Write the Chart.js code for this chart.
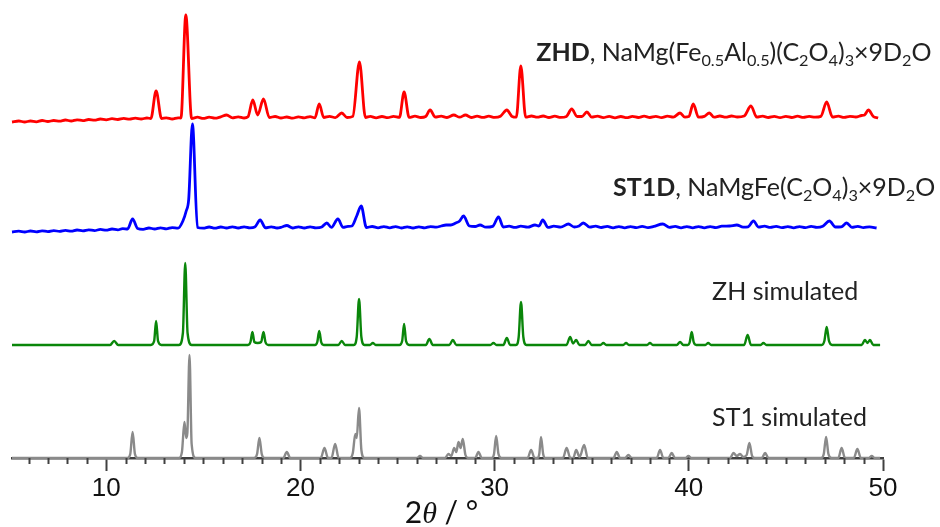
<!DOCTYPE html>
<html>
<head>
<meta charset="utf-8">
<script src="https://cdn.jsdelivr.net/npm/chart.js@4.4.1/dist/chart.umd.min.js"></script>
<style>
html,body{margin:0;padding:0;background:#fff;}
#wrap{width:940px;height:527px;}
</style>
</head>
<body>
<div id="wrap"><canvas id="c" width="940" height="527"></canvas></div>
<script>
// ---------- axis range / ticks ----------
const twoThetaMin = 5.15;
const twoThetaMax = 50;
const majorTickValues = [10, 20, 30, 40, 50];

// ---------- vertical offsets of the stacked patterns (arbitrary units) ----------
const offsetZHD = 339;
const offsetST1D = 229;
const offsetZHsim = 113;
const offsetST1sim = 0;

// ---------- ZHD (experimental) : [2theta, intensity] ----------
const zhdPattern = [
  [5.15,-3],[5.5,-2],[5.8,-3],[6.1,-2],[6.4,-2.8],[6.7,-1.5],[7.0,-2.5],[7.3,-1.5],[7.6,-2.2],[7.9,-1],
  [8.2,-2],[8.5,-0.8],[8.8,-1.6],[9.1,-0.5],[9.4,-1.2],[9.7,0],[10.0,-0.8],[10.3,0.3],[10.6,-0.5],[10.9,0.6],
  [11.2,-0.2],[11.5,0.8],[11.8,0],[12.1,1],[12.3,0.5],[12.57,28],[12.85,0.5],[13.1,1.2],[13.4,0],[13.7,1.2],
  [13.85,1],[14.1,104],[14.4,0.5],[14.7,1.8],[15.0,0.6],[15.3,1.8],[15.6,0.8],[15.9,2.2],[16.2,4],[16.5,1.2],
  [16.8,2.2],[17.1,1],[17.3,2.2],[17.55,19],[17.8,4],[18.1,20],[18.4,1.5],[18.7,2.5],[19.0,1],[19.3,2],
  [19.6,0.8],[19.9,2.2],[20.2,1.2],[20.5,2.4],[20.75,1.2],[20.97,15],[21.2,1.5],[21.5,2.6],[21.8,1.4],[22.13,6],
  [22.4,1.5],[22.7,2.6],[23.04,57],[23.35,1.5],[23.6,2.6],[23.9,1.2],[24.2,2.5],[24.5,1.4],[24.8,2.6],[25.1,1.6],
  [25.34,27],[25.6,1.6],[25.9,2.8],[26.2,1.5],[26.45,2.5],[26.68,9],[26.95,1.8],[27.25,2.8],[27.55,1.5],[27.9,4],
  [28.2,1.8],[28.5,4],[28.8,1.5],[29.1,2.8],[29.4,1.6],[29.7,2.8],[30.0,1.6],[30.3,2.8],[30.63,9],[30.9,2.5],
  [31.12,1.8],[31.35,53],[31.6,1.8],[31.9,3],[32.2,1.8],[32.5,3],[32.8,1.5],[33.1,2.8],[33.4,1.6],[33.7,2.6],
  [33.97,10],[34.25,2.5],[34.5,2.5],[34.75,7],[35.0,1.8],[35.3,2.8],[35.6,1.4],[35.9,2.6],[36.2,1.2],[36.5,2.5],
  [36.8,1.3],[37.1,2.6],[37.4,1.5],[37.7,2.8],[38.0,1.5],[38.3,2.6],[38.6,1.4],[38.9,2.8],[39.2,1.8],[39.55,6],
  [39.8,1.8],[40.0,2.4],[40.23,15],[40.5,1.8],[40.8,2.6],[41.06,6],[41.3,1.8],[41.6,3],[41.9,1.8],[42.2,3],
  [42.5,2],[42.85,3],[43.2,13],[43.5,1.8],[43.8,2.8],[44.1,1.5],[44.4,2.6],[44.7,1.4],[45.0,2.6],[45.3,1.5],
  [45.6,2.8],[45.9,1.6],[46.2,2.6],[46.5,1.8],[46.8,2.6],[47.1,17],[47.4,1.8],[47.7,2.8],[48.0,1.6],[48.3,2.6],
  [48.6,2],[48.9,3.5],[49.05,4],[49.25,9],[49.5,2.5],[49.75,1]
];

// ---------- ST1D (experimental) ----------
const st1dPattern = [
  [5.15,-3],[5.5,-2.2],[5.8,-3],[6.1,-2],[6.4,-2.8],[6.7,-1.8],[7.0,-2.6],[7.3,-1.6],[7.6,-2.4],[7.9,-1.4],
  [8.2,-2.2],[8.5,-1],[8.8,-1.8],[9.1,-0.8],[9.4,-1.6],[9.7,-0.4],[10.0,-1.2],[10.3,0],[10.6,-0.8],[10.85,0.4],
  [11.1,0],[11.36,10],[11.62,0.5],[11.9,-0.3],[12.2,1],[12.5,0],[12.8,1.2],[13.1,0.2],[13.4,1.4],[13.7,0.8],
  [13.95,8],[14.12,18],[14.25,30],[14.44,105],[14.7,1.5],[15.0,0.8],[15.3,2],[15.6,0.8],[15.9,2],[16.2,1],
  [16.5,2.2],[16.8,1],[17.1,2.2],[17.4,1.2],[17.65,2],[17.93,9],[18.2,1.2],[18.5,2.2],[18.8,1],[19.05,2],
  [19.3,3.5],[19.6,1],[19.9,2.2],[20.2,1],[20.5,2.2],[20.8,1.2],[21.1,2],[21.36,6],[21.6,1.6],[21.93,10],
  [22.2,1.6],[22.45,2.6],[22.65,3],[22.9,13],[23.13,23],[23.4,1.5],[23.7,2.5],[24.0,1.2],[24.3,2.4],[24.6,1.2],
  [24.9,2.4],[25.2,1],[25.5,2.2],[25.8,1],[26.1,2.2],[26.4,1.2],[26.7,2.4],[27.0,1.8],[27.25,3],[27.5,4],
  [27.75,4],[28.0,6],[28.2,8],[28.4,13],[28.7,3],[29.0,2.5],[29.25,4],[29.55,1.8],[29.9,2.6],[30.2,12],
  [30.45,2],[30.75,2.8],[31.05,1.6],[31.35,2.8],[31.7,1.8],[32.08,4],[32.28,3],[32.48,9],[32.75,1.6],[33.05,2.8],
  [33.4,1.8],[33.8,5],[34.1,2],[34.35,3],[34.57,6],[34.9,1.8],[35.2,2.8],[35.5,1.5],[35.8,2.6],[36.1,1.2],
  [36.4,2.4],[36.7,1.2],[37.0,2.4],[37.3,1.4],[37.6,2.6],[37.9,1.4],[38.2,2.6],[38.66,5],[39.0,1.6],[39.3,2.6],
  [39.6,1.2],[39.9,2.4],[40.2,1.2],[40.5,2.4],[40.8,1.2],[41.1,2.4],[41.4,1.4],[41.7,2.8],[42.1,3],[42.47,4],
  [42.8,1.8],[43.05,2.2],[43.33,8],[43.6,1.8],[43.9,2.8],[44.2,1.6],[44.5,2.6],[44.8,1.4],[45.1,2.4],[45.4,1.2],
  [45.7,2.4],[46.0,1.4],[46.3,2.6],[46.6,1.6],[46.9,2.8],[47.24,8],[47.55,2],[47.85,2.2],[48.13,6],[48.4,1.6],
  [48.7,2.6],[49.0,1.4],[49.3,2.2],[49.67,1]
];

// ---------- ZH simulated ----------
const zhSimPattern = [
  [5.15,0],[10.2,0],[10.41,4],[10.62,0],
  [12.3,0],[12.47,4],[12.57,24],[12.67,4],[12.84,0],
  [13.75,0],[13.95,12],[14.07,82],[14.19,12],[14.4,0],
  [17.3,0],[17.43,3],[17.53,13],[17.63,3],[17.8,2],[17.98,3],[18.1,13],[18.2,3],[18.35,0],
  [20.75,0],[20.87,3],[20.97,14],[21.07,3],[21.2,0],
  [21.95,0],[22.13,4],[22.3,0],
  [22.75,0],[22.9,8],[23.02,46],[23.14,8],[23.3,0],
  [23.58,0],[23.73,2],[23.88,0],
  [25.1,0],[25.24,4],[25.34,21],[25.44,4],[25.6,0],
  [26.46,0],[26.64,6],[26.82,0],
  [27.67,0],[27.85,5],[28.03,0],
  [29.78,0],[29.94,2],[30.1,0],
  [30.45,0],[30.63,7],[30.8,0],
  [31.1,0],[31.24,8],[31.36,43],[31.48,8],[31.64,0],
  [33.7,0],[33.89,8],[34.04,1.5],[34.2,5],[34.37,0],
  [34.66,0],[34.83,4],[35.0,0],
  [35.45,0],[35.6,2],[35.75,0],
  [36.62,0],[36.77,2],[36.92,0],
  [37.85,0],[38.0,2],[38.15,0],
  [39.38,0],[39.55,3],[39.72,0],
  [39.95,0],[40.05,3],[40.15,13],[40.25,3],[40.38,0],
  [40.85,0],[41.0,2],[41.15,0],
  [42.85,0],[43.03,10],[43.2,0],
  [43.7,0],[43.84,2],[44.0,0],
  [46.85,0],[46.98,4],[47.1,18],[47.22,4],[47.38,0],
  [48.9,0],[49.07,5],[49.2,2],[49.33,5],[49.5,0],[49.85,0]
];

// ---------- ST1 simulated ----------
const st1SimPattern = [
  [5.15,0],[11.1,0],[11.24,4],[11.36,26],[11.48,4],[11.62,0],
  [13.75,0],[13.9,6],[14.03,36],[14.12,20],[14.18,25],[14.29,103],[14.4,14],[14.6,0],
  [17.62,0],[17.77,4],[17.89,20],[18.01,4],[18.15,0],
  [19.12,0],[19.3,6],[19.48,0],
  [21.05,0],[21.24,10],[21.42,0],[21.6,0],[21.79,14],[21.97,0],
  [22.55,0],[22.7,5],[22.83,24],[22.9,20],[23.02,50],[23.14,8],[23.3,0],
  [26.0,0],[26.16,2],[26.32,0],
  [27.45,0],[27.62,4],[27.77,2],[27.92,10],[28.03,6],[28.14,16],[28.25,10],[28.36,19],[28.5,3],[28.65,0],
  [29.0,0],[29.17,6],[29.34,0],
  [29.85,0],[29.97,4],[30.08,22],[30.2,4],[30.35,0],
  [31.7,0],[31.88,8],[32.06,0],[32.2,0],[32.3,4],[32.39,21],[32.5,4],[32.6,0],
  [33.52,0],[33.71,10],[33.9,0],[34.05,0],[34.2,8],[34.38,1],[34.61,13],[34.8,0],
  [36.12,0],[36.29,6],[36.46,0],[36.72,0],[36.89,3],[37.06,0],
  [38.35,0],[38.52,8],[38.69,0],[38.95,0],[39.12,5],[39.29,0],
  [39.82,0],[39.98,2],[40.14,0],
  [42.13,0],[42.3,5],[42.47,2],[42.64,4],[42.8,1],[42.98,3],[43.12,15],[43.26,2],[43.4,0],
  [43.76,0],[43.93,5],[44.1,0],
  [46.82,0],[46.95,4],[47.07,21],[47.19,4],[47.35,0],
  [47.7,0],[47.87,10],[48.04,0],
  [48.5,0],[48.68,9],[48.86,0],
  [49.26,0],[49.42,2],[49.58,0],[49.85,0]
];

// ---------- label texts (segments: b = bold, s = subscript) ----------
const labelZHD = [
  {t:'ZHD', b:true},{t:', NaMg(Fe'},{t:'0.5', s:true},{t:'Al'},{t:'0.5', s:true},{t:')(C'},
  {t:'2', s:true},{t:'O'},{t:'4', s:true},{t:')'},{t:'3', s:true},{t:'\u00d79D'},{t:'2', s:true},{t:'O'}
];
const labelST1D = [
  {t:'ST1D', b:true},{t:', NaMgFe(C'},{t:'2', s:true},{t:'O'},{t:'4', s:true},{t:')'},
  {t:'3', s:true},{t:'\u00d79D'},{t:'2', s:true},{t:'O'}
];
const labelZHsim = [{t:'ZH simulated'}];
const labelST1sim = [{t:'ST1 simulated'}];

// ---------- build datasets ----------
function toXY(pattern, offset) {
  return pattern.map(p => ({x: p[0], y: p[1] + offset}));
}

const labelPlacements = [
  {segs: labelZHD,    x: 32.15, y: 406},
  {segs: labelST1D,   x: 36.1,  y: 271},
  {segs: labelZHsim,  x: 41.2,  y: 167},
  {segs: labelST1sim, x: 41.2,  y: 41}
];

const LABEL_FONT = 'Lato, "Open Sans", sans-serif';
const LABEL_SIZE = 25;

function drawRich(ctx, segs, x, yc, size) {
  let cx = x;
  const base = yc + size * 0.36;
  ctx.textBaseline = 'alphabetic';
  ctx.textAlign = 'left';
  ctx.fillStyle = '#222';
  for (const s of segs) {
    const fs = s.s ? size * 0.65 : size;
    ctx.font = (s.b ? 'bold ' : '') + fs + 'px ' + LABEL_FONT;
    const y = base + (s.s ? size * 0.2 : 0);
    ctx.fillText(s.t, cx, y);
    cx += ctx.measureText(s.t).width;
  }
}

const decorations = {
  id: 'decorations',
  afterDraw(chart) {
    const ctx = chart.ctx;
    const xs = chart.scales.x, ys = chart.scales.y;
    const bottom = chart.chartArea.bottom;
    ctx.save();
    // minor ticks
    ctx.strokeStyle = '#404040';
    ctx.lineWidth = 2;
    for (let v = Math.ceil(twoThetaMin); v < twoThetaMax; v++) {
      if (majorTickValues.includes(v)) continue;
      const px = Math.round(xs.getPixelForValue(v)) + 0.5;
      ctx.beginPath();
      ctx.moveTo(px, bottom);
      ctx.lineTo(px, bottom + 6);
      ctx.stroke();
    }
    // series labels
    for (const l of labelPlacements) {
      drawRich(ctx, l.segs, xs.getPixelForValue(l.x), ys.getPixelForValue(l.y), LABEL_SIZE);
    }
    // axis title  2θ / °
    const parts = [
      {t:'2', f:'30px ' + LABEL_FONT},
      {t:'\u03b8', f:'italic 30px "Liberation Serif", serif'},
      {t:' / ', f:'30px ' + LABEL_FONT},
      {t:'\u00b0', f:'30px ' + LABEL_FONT}
    ];
    let w = 0;
    for (const p of parts) { ctx.font = p.f; w += ctx.measureText(p.t).width; }
    let tx = (chart.chartArea.left + chart.chartArea.right) / 2 - w / 2 - 6;
    const ty = 523;
    ctx.fillStyle = '#111';
    ctx.textBaseline = 'alphabetic';
    for (const p of parts) {
      ctx.font = p.f;
      ctx.fillText(p.t, tx, ty);
      tx += ctx.measureText(p.t).width;
    }
    ctx.restore();
  }
};

function lineDs(data, color, width) {
  return {
    data: data,
    borderColor: color,
    borderWidth: width,
    pointRadius: 0,
    fill: false,
    cubicInterpolationMode: 'monotone',
    clip: false
  };
}

new Chart(document.getElementById('c'), {
  type: 'line',
  data: {
    datasets: [
      lineDs(toXY(st1SimPattern, offsetST1sim), '#8a8a8a', 2.4),
      lineDs(toXY(zhSimPattern, offsetZHsim), '#0a860a', 2.4),
      lineDs(toXY(st1dPattern, offsetST1D), '#0000ff', 2.8),
      lineDs(toXY(zhdPattern, offsetZHD), '#ff0000', 2.8)
    ]
  },
  options: {
    responsive: false,
    animation: false,
    devicePixelRatio: 1,
    layout: {padding: {left: 12, right: 57, top: 8, bottom: 0}},
    plugins: {legend: {display: false}, tooltip: {enabled: false}},
    scales: {
      x: {
        type: 'linear',
        min: twoThetaMin,
        max: twoThetaMax,
        afterBuildTicks: (scale) => {
          const t = [];
          for (let v = 6; v <= 50; v++) t.push({value: v});
          scale.ticks = t;
        },
        afterFit: (scale) => { scale.height = 69; },
        border: {display: true, color: '#404040', width: 2.5},
        grid: {
          display: true,
          drawOnChartArea: false,
          drawTicks: true,
          tickLength: 13,
          tickWidth: 2,
          tickColor: (c) => (c.tick && c.tick.value % 10 === 0) ? '#404040' : 'rgba(0,0,0,0)'
        },
        ticks: {
          autoSkip: false,
          maxRotation: 0,
          padding: 2,
          color: '#111',
          font: {family: '"Liberation Sans", Arial, sans-serif', size: 26},
          callback: (v) => (v % 10 === 0 ? String(v) : '')
        },
        title: {display: false}
      },
      y: {display: false, min: 0, max: 450}
    }
  },
  plugins: [decorations]
});
</script>
</body>
</html>
